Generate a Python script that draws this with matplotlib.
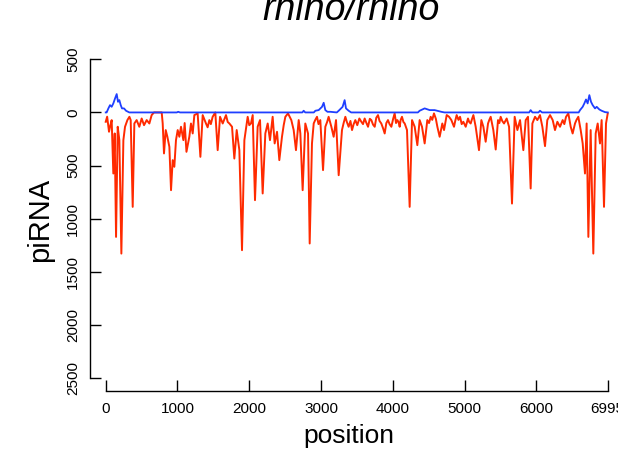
import matplotlib.pyplot as plt

# =============================================================================
# 1. DATA
# =============================================================================

# antisense piRNA (red, drawn below zero)
red_pos = [0, 20, 46, 60, 83, 106, 125, 144, 167, 190, 218, 246, 269, 302, 330, 348, 376, 399,
           431, 468, 501, 534, 571, 608, 640, 673, 780, 794, 812, 836, 859, 887, 910, 933, 956,
           979, 1003, 1026, 1049, 1082, 1100, 1125, 1165, 1188, 1212, 1235, 1281, 1319, 1351,
           1397, 1420, 1444, 1465, 1490, 1527, 1560, 1593, 1630, 1655, 1676, 1700, 1723, 1760,
           1792, 1825, 1862, 1899, 1932, 1978, 2000, 2024, 2048, 2080, 2117, 2150, 2187, 2224,
           2257, 2289, 2326, 2354, 2387, 2419, 2456, 2480, 2503, 2540, 2586, 2619, 2651, 2689,
           2712, 2744, 2781, 2819, 2842, 2874, 2898, 2920, 2944, 2965, 2990, 3028, 3060, 3085,
           3106, 3144, 3176, 3209, 3246, 3292, 3315, 3339, 3360, 3385, 3410, 3432, 3455, 3478,
           3505, 3534, 3562, 3585, 3608, 3630, 3655, 3680, 3701, 3725, 3748, 3770, 3794, 3815,
           3840, 3865, 3887, 3910, 3933, 3955, 3980, 4005, 4026, 4045, 4063, 4080, 4096, 4110,
           4128, 4148, 4166, 4198, 4235, 4268, 4305, 4342, 4374, 4407, 4444, 4481, 4505, 4528,
           4550, 4574, 4600, 4621, 4653, 4690, 4714, 4751, 4784, 4816, 4853, 4870, 4890, 4915,
           4937, 4960, 4983, 5016, 5048, 5065, 5085, 5105, 5123, 5155, 5178, 5201, 5234, 5262,
           5294, 5327, 5345, 5364, 5401, 5434, 5466, 5485, 5503, 5525, 5550, 5587, 5620, 5661,
           5698, 5736, 5773, 5819, 5852, 5884, 5921, 5945, 5982, 6014, 6051, 6084, 6121, 6153,
           6191, 6228, 6260, 6293, 6330, 6367, 6390, 6414, 6446, 6479, 6506, 6539, 6560, 6585,
           6618, 6646, 6678, 6701, 6725, 6757, 6794, 6827, 6855, 6887, 6910, 6943, 6971, 6995]
red_val = [-88, -40, -182, -135, -72, -575, -198, -1172, -135, -261, -1329, -261, -135, -72, -41,
           -72, -889, -104, -72, -135, -57, -120, -72, -104, -25, 0, 0, -104, -386, -166, -229,
           -324, -732, -449, -512, -261, -166, -229, -135, -261, -100, -371, -229, -104, -198,
           -25, -9, -418, -25, -104, -140, -72, -110, -41, 0, -355, -41, -104, -60, -25, -90,
           -104, -135, -434, -166, -355, -1297, -261, -41, -120, -104, -25, -826, -135, -72,
           -763, -198, -104, -261, -41, -292, -182, -449, -229, -120, -41, -9, -72, -166, -355,
           -72, -198, -732, -104, -198, -1234, -292, -104, -70, -41, -110, -72, -543, -135,
           -90, -41, -135, -229, -72, -591, -166, -100, -41, -90, -135, -80, -166, -110, -72,
           -120, -57, -88, -110, -57, -95, -135, -60, -72, -115, -135, -50, -25, -80, -104,
           -150, -198, -100, -72, -110, -135, -60, -9, -100, -72, -90, -135, -70, -41, -90,
           -104, -166, -889, -72, -135, -308, -72, -135, -292, -72, -100, -41, -70, -9, -60,
           -135, -229, -104, -166, -25, -41, -72, -135, -80, -25, -70, -41, -110, -88, -135,
           -57, -90, -104, -60, -25, -135, -245, -355, -72, -135, -276, -104, -70, -41, -166,
           -349, -72, -100, -41, -80, -104, -57, -135, -858, -41, -166, -72, -355, -72, -41,
           -716, -104, -41, -72, -25, -135, -317, -72, -25, -72, -166, -88, -135, -72, -110,
           -41, -9, -135, -198, -104, -70, -41, -166, -292, -575, -104, -1172, -166, -1329,
           -198, -104, -292, -72, -889, -104, -9]

# sense piRNA (blue, drawn above zero)
blue_pos = [0, 13, 37, 60, 83, 106, 130, 153, 171, 190, 209, 227, 255, 283, 329, 990, 1010, 1035,
            2740, 2758, 2780, 2900, 2921, 2967, 3014, 3037, 3060, 3090, 3130, 3220, 3246, 3301,
            3329, 3348, 3385, 3420, 4350, 4374, 4444, 4514, 4583, 4676, 4720, 5900, 5921, 5945,
            6030, 6051, 6080, 6590, 6609, 6646, 6669, 6692, 6715, 6739, 6762, 6785, 6818, 6841,
            6878, 6910, 6957, 6995]
blue_val = [0, 0, 38, 69, 53, 85, 132, 173, 100, 116, 69, 38, 38, 16, 0, 0, 6, 0,
            0, 16, 0, 0, 16, 22, 53, 91, 22, 6, 6, 0, 16, 53,
            116, 38, 16, 0, 0, 16, 38, 22, 22, 6, 0, 0, 22, 0,
            0, 16, 0, 0, 22, 53, 85, 122, 85, 163, 100, 69, 38, 53,
            28, 16, 3, 0]

xticks = [0, 1000, 2000, 3000, 4000, 5000, 6000, 6995]
xtick_labels = ['0', '1000', '2000', '3000', '4000', '5000', '6000', '6995']
yticks = [500, 0, -500, -1000, -1500, -2000, -2500]
ytick_labels = ['500', '0', '500', '1000', '1500', '2000', '2500']

# =============================================================================
# 2. FIGURE
# =============================================================================

plt.rcParams['font.family'] = ['Liberation Sans', 'DejaVu Sans']

fig = plt.figure(figsize=(6.18, 4.51), dpi=100)
ax = fig.add_axes([90 / 618, 0.1337, (618 - 90) / 618, 0.763])

ax.plot(red_pos, red_val, color='#ff2a00', linewidth=1.4, zorder=2)
ax.plot(blue_pos, blue_val, color='#1f3fff', linewidth=1.3, zorder=3)

ax.set_xlim(-219, 7138)
ax.set_ylim(-2620, 620)

# axes detached R-style
for side in ['top', 'right']:
    ax.spines[side].set_visible(False)
ax.spines['left'].set_bounds(-2500, 500)
ax.spines['bottom'].set_bounds(0, 6995)
for side in ['left', 'bottom']:
    ax.spines[side].set_linewidth(1.0)

ax.set_xticks(xticks, xtick_labels)
ax.set_yticks(yticks, ytick_labels)
ax.tick_params(axis='both', direction='in', length=8, width=1.0, labelsize=11)
ax.tick_params(axis='x', pad=8)
ax.tick_params(axis='y', pad=7)
for lab in ax.get_yticklabels():
    lab.set_rotation(90)
    lab.set_va('center')

fig.text(351 / 618, 1 - 20 / 451, 'rhino/rhino', ha='center', va='baseline',
         fontsize=27, style='italic')
fig.text(349 / 618, 1 - 443 / 451, 'position', ha='center', va='baseline', fontsize=19)
fig.text(40 / 618, 1 - 220 / 451, 'piRNA', ha='center', va='center', rotation=90, fontsize=21)

fig.savefig('out.png', dpi=100)
